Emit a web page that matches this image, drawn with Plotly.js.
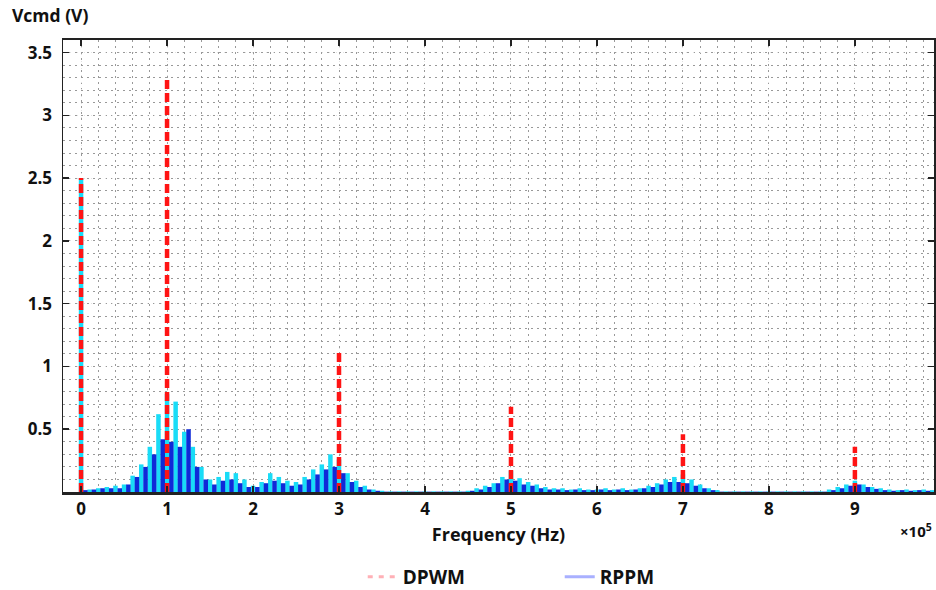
<!DOCTYPE html>
<html>
<head>
<meta charset="utf-8">
<script src="https://cdn.plot.ly/plotly-3.0.1.min.js"></script>
<style>html,body{margin:0;padding:0;background:#fff;}#chart{width:936px;height:590px;}</style>
</head>
<body>
<div id="chart"></div>
<script>
// DPWM harmonic peaks (frequency in kHz, amplitude in V)
const dpwmFreqKHz = [0, 100, 300, 500, 700, 900];
const dpwmAmp = [2.5, 3.3, 1.14, 0.68, 0.46, 0.36];

// RPPM spectrum, upper (cyan) spectral lines
const rppmFreqKHzA = [0,10,20,30,40,50,60,70,80,90,
  100,110,120,130,140,150,160,170,180,190,
  200,210,220,230,240,250,260,270,280,290,
  300,310,320,330,340,350,360,370,380,390,
  400,410,420,430,440,450,460,470,480,490,
  500,510,520,530,540,550,560,570,580,590,
  600,610,620,630,640,650,660,670,680,690,
  700,710,720,730,740,750,760,770,780,790,
  800,810,820,830,840,850,860,870,880,890,
  900,910,920,930,940,950,960,970,980,990];
const rppmAmpA = [2.5,0.02,0.03,0.04,0.05,0.06,0.13,0.22,0.36,0.62,
  0.78,0.72,0.48,0.36,0.2,0.1,0.12,0.16,0.15,0.1,
  0.05,0.08,0.15,0.12,0.09,0.08,0.12,0.18,0.22,0.3,
  0.26,0.15,0.09,0.05,0.02,0.01,0.005,0.005,0.005,0.005,
  0.005,0.005,0.005,0.005,0.005,0.01,0.03,0.05,0.07,0.12,
  0.17,0.11,0.08,0.06,0.04,0.03,0.03,0.02,0.03,0.02,
  0.02,0.03,0.02,0.03,0.02,0.03,0.05,0.07,0.1,0.12,
  0.14,0.1,0.06,0.03,0.015,0.005,0.005,0.005,0.005,0.005,
  0.005,0.005,0.005,0.005,0.005,0.005,0.005,0.02,0.04,0.06,
  0.09,0.06,0.04,0.03,0.02,0.015,0.02,0.015,0.02,0.015];

// RPPM spectrum, inner (blue) spectral lines
const rppmFreqKHzB = [5,15,25,35,45,55,65,75,85,95,
  105,115,125,135,145,155,165,175,185,195,
  205,215,225,235,245,255,265,275,285,295,
  305,315,325,335,345,355,365,375,385,395,
  405,415,425,435,445,455,465,475,485,495,
  505,515,525,535,545,555,565,575,585,595,
  605,615,625,635,645,655,665,675,685,695,
  705,715,725,735,745,755,765,775,785,795,
  805,815,825,835,845,855,865,875,885,895,
  905,915,925,935,945,955,965,975,985,995];
const rppmAmpB = [0.015,0.02,0.03,0.03,0.03,0.06,0.12,0.2,0.3,0.42,
  0.4,0.36,0.5,0.2,0.1,0.06,0.09,0.1,0.07,0.04,
  0.04,0.07,0.09,0.07,0.05,0.06,0.1,0.14,0.18,0.2,
  0.15,0.08,0.04,0.02,0.01,0.003,0.003,0.003,0.003,0.003,
  0.003,0.003,0.003,0.003,0.003,0.01,0.02,0.04,0.07,0.1,
  0.09,0.06,0.05,0.03,0.02,0.02,0.015,0.02,0.015,0.015,
  0.02,0.015,0.02,0.015,0.02,0.03,0.04,0.06,0.08,0.08,
  0.07,0.05,0.03,0.015,0.003,0.003,0.003,0.003,0.003,0.003,
  0.003,0.003,0.003,0.003,0.003,0.003,0.003,0.015,0.03,0.05,
  0.06,0.04,0.025,0.015,0.01,0.015,0.01,0.015,0.01,0.01];

const xTickLabels = ['0','1','2','3','4','5','6','7','8','9'];
const yTickLabels = ['0.5','1','1.5','2','2.5','3','3.5'];

// kHz -> units of 1e5 Hz (axis shows ×10^5)
function stems(fk, amp) {
  const xs = [], ys = [];
  for (let i = 0; i < fk.length; i++) {
    const x = fk[i] / 100;
    xs.push(x, x, null);
    ys.push(0, amp[i], null);
  }
  return {x: xs, y: ys};
}

const sA = stems(rppmFreqKHzA, rppmAmpA);
const sB = stems(rppmFreqKHzB, rppmAmpB);
const sD = stems(dpwmFreqKHz, dpwmAmp);

const traces = [
  {x: sA.x, y: sA.y, mode: 'lines', line: {color: '#19dcf7', width: 4.5}, showlegend: false, hoverinfo: 'skip'},
  {x: sB.x, y: sB.y, mode: 'lines', line: {color: '#0f2ad8', width: 4.5}, showlegend: false, hoverinfo: 'skip'},
  {x: sD.x, y: sD.y, mode: 'lines', line: {color: '#ff1414', width: 4.5, dash: '9px,4px'}, showlegend: false, hoverinfo: 'skip'},
  {x: [null], y: [null], mode: 'lines', name: 'DPWM', line: {color: '#ffb0b6', width: 3, dash: '5px,6px'}},
  {x: [null], y: [null], mode: 'lines', name: 'RPPM', line: {color: '#a9b0ff', width: 3}}
];

const fontFam = '"Open Sans", Lato, sans-serif';
const lab = {family: fontFam, size: 17, color: '#111', weight: 'bold'};
const layout = {
  width: 936, height: 590,
  margin: {l: 63, r: 2, t: 40, b: 98, autoexpand: false},
  paper_bgcolor: '#ffffff', plot_bgcolor: '#ffffff',
  font: {family: fontFam, size: 16, color: '#111'},
  showlegend: true,
  legend: {orientation: 'h', xref: 'container', yref: 'container',
           x: 0.598, xanchor: 'center', y: 0.022, yanchor: 'middle',
           font: {family: fontFam, size: 19, color: '#111', weight: 'bold'}, entrywidth: 152},
  xaxis: {
    range: [-0.21, 9.92], tickmode: 'array',
    tickvals: [0,1,2,3,4,5,6,7,8,9], ticktext: xTickLabels,
    ticks: 'inside', ticklen: 6, tickwidth: 1.5, tickcolor: '#222',
    showline: true, linecolor: '#222', linewidth: 2.5, mirror: 'ticks',
    showgrid: true, gridcolor: '#e2e2e2', griddash: '1px,6px', gridwidth: 1,
    zeroline: false, automargin: false,
    minor: {dtick: 0.2, tick0: 0, showgrid: true, gridcolor: '#999', griddash: '1.5px,4.5px', gridwidth: 1, ticks: ''},
    tickfont: lab, ticklabelstandoff: 0,
    title: {text: 'Frequency (Hz)', font: {family: fontFam, size: 18, color: '#111', weight: 'bold'}, standoff: 10}
  },
  yaxis: {
    range: [0.0001, 3.6], tickmode: 'array',
    tickvals: [0.5,1,1.5,2,2.5,3,3.5], ticktext: yTickLabels,
    ticks: 'inside', ticklen: 6, tickwidth: 1.5, tickcolor: '#222',
    showline: true, linecolor: '#222', linewidth: 1.5, mirror: 'ticks',
    showgrid: true, gridcolor: '#e2e2e2', griddash: '1px,6px', gridwidth: 1,
    zeroline: false, automargin: false,
    minor: {dtick: 0.1, tick0: 0, showgrid: true, gridcolor: '#999', griddash: '1.5px,4.5px', gridwidth: 1, ticks: ''},
    tickfont: lab, ticklabelstandoff: 6
  },
  annotations: [
    {text: 'Vcmd (V)', xref: 'paper', yref: 'paper', x: -0.061, y: 1.055, xanchor: 'left', yanchor: 'middle',
     showarrow: false, font: {family: fontFam, size: 17.5, color: '#111', weight: 'bold'}},
    {text: '×10<sup>5</sup>', xref: 'paper', yref: 'paper', x: 1.0, y: -0.085, xanchor: 'right', yanchor: 'middle',
     showarrow: false, font: {family: fontFam, size: 15, color: '#111', weight: 'bold'}}
  ]
};

Plotly.newPlot('chart', traces, layout, {displayModeBar: false, staticPlot: true});
</script>
</body>
</html>
